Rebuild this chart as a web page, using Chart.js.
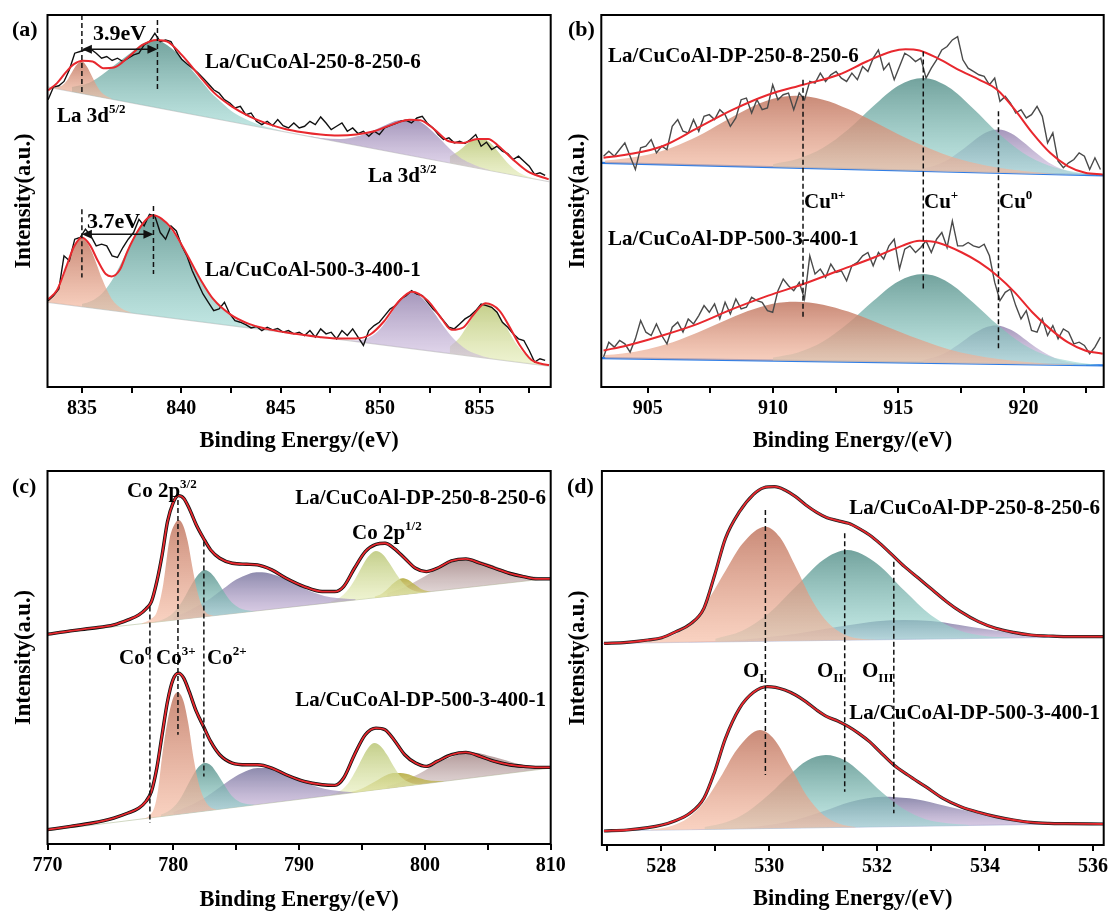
<!DOCTYPE html>
<html lang="en">
<head>
<meta charset="UTF-8">
<title>XPS spectra of La/CuCoAl catalysts</title>
<script src="https://cdn.jsdelivr.net/npm/chart.js"></script>
<style>
  body { margin: 0; background: #fff; }
  #wrap { position: relative; width: 1110px; height: 916px; overflow: hidden; }
  canvas { position: absolute; }
</style>
</head>
<body>
<div id="wrap">
  <canvas id="pa" width="555" height="458" style="left:0;top:0"></canvas>
  <canvas id="pb" width="555" height="458" style="left:555px;top:0"></canvas>
  <canvas id="pc" width="580" height="458" style="left:0;top:458px"></canvas>
  <canvas id="pd" width="555" height="458" style="left:555px;top:458px"></canvas>
</div>
<script>
const SERIF = '"Liberation Serif", "Times New Roman", serif';

// ---------- (a) La 3d ----------
const aX = [833.30, 833.57, 833.84, 834.10, 834.37, 834.64, 834.91, 835.18, 835.45, 835.72,
  835.99, 836.25, 836.52, 836.79, 837.06, 837.33, 837.60, 837.87, 838.13, 838.40,
  838.67, 838.94, 839.21, 839.48, 839.75, 840.02, 840.28, 840.55, 840.82, 841.09,
  841.36, 841.63, 841.90, 842.17, 842.44, 842.70, 842.97, 843.24, 843.51, 843.78,
  844.05, 844.32, 844.59, 844.85, 845.12, 845.39, 845.66, 845.93, 846.20, 846.47,
  846.74, 847.01, 847.28, 847.54, 847.81, 848.08, 848.35, 848.62, 848.89, 849.16,
  849.43, 849.70, 849.96, 850.23, 850.50, 850.77, 851.04, 851.31, 851.58, 851.85,
  852.12, 852.39, 852.66, 852.92, 853.19, 853.46, 853.73, 854.00, 854.27, 854.54,
  854.81, 855.08, 855.35, 855.61, 855.88, 856.15, 856.42, 856.69, 856.96, 857.23,
  857.50, 857.77, 858.04, 858.30];
const aRawTop = [865, 903, 907, 920, 955, 1005, 1010, 1015, 1017, 1005,
  990, 995, 983, 990, 980, 990, 1000, 1005, 1030, 1040,
  1065, 1040, 1045, 1040, 1010, 987, 973, 960, 947, 930,
  913, 895, 885, 865, 855, 840, 845, 820, 825, 800,
  790, 800, 787, 805, 787, 780, 795, 780, 785, 800,
  790, 813, 795, 775, 785, 795, 770, 780, 763, 770,
  755, 770, 760, 780, 787, 793, 800, 803, 795, 810,
  815, 793, 780, 760, 745, 750, 735, 740, 733, 745,
  760, 725, 737, 715, 725, 710, 703, 685, 695, 680,
  665, 640, 645, 637];
const aRawBot = [260, 275, 295, 395, 380, 445, 450, 475, 455, 425,
  430, 425, 395, 390, 420, 445, 465, 505, 485, 520,
  515, 465, 445, 485, 470, 425, 395, 350, 315, 280,
  255, 230, 235, 255, 220, 200, 195, 188, 178, 182,
  170, 180, 172, 176, 165, 170, 160, 165, 155, 170,
  150, 175, 160, 165, 145, 170, 155, 175, 150, 125,
  170, 185, 195, 215, 235, 245, 265, 275, 290, 280,
  275, 255, 235, 220, 200, 180, 175, 190, 205, 215,
  230, 250, 245, 240, 225, 195, 180, 160, 145, 140,
  110, 75, 85, 80];
const aFitTop = [[833.3, 893], [833.75, 915], [834.2, 948], [834.6, 972], [835.04, 982], [835.54, 980], [836.08, 960],
  [836.61, 962], [837.33, 993], [838.05, 1030], [838.76, 1045], [839.3, 1040], [840.02, 1000], [840.91, 937],
  [841.63, 887], [842.53, 845], [843.42, 815], [844.32, 793], [845.22, 777], [846.11, 767], [847.01, 760],
  [847.9, 757], [848.8, 760], [849.7, 770], [850.59, 790], [851.49, 805], [852.03, 803], [852.74, 775],
  [853.46, 740], [854.18, 735], [854.89, 747], [855.43, 747], [855.97, 725], [856.68, 685], [857.4, 650], [858.48, 625]];
const aFitBot = [[833.3, 264], [833.75, 292], [834.25, 368], [834.6, 422], [835.0, 450], [835.4, 428], [835.8, 380],
  [836.2, 340], [836.5, 333], [836.9, 352], [837.3, 410], [837.8, 468], [838.3, 508], [838.6, 517], [839.0, 507],
  [839.5, 478], [840.0, 430], [840.5, 375], [841.0, 320], [841.6, 265], [842.5, 217], [843.4, 190], [844.3, 175],
  [845.2, 165], [846.1, 157], [847.0, 150], [848.0, 146], [848.8, 146], [849.5, 158], [850.2, 198], [850.9, 255],
  [851.6, 287], [852.4, 260], [853.1, 205], [853.6, 172], [854.2, 180], [854.7, 218], [855.3, 252], [856.0, 230],
  [856.5, 182], [857.0, 128], [857.6, 82], [858.1, 70], [858.5, 66]];
const aBgTop = [[833.3, 903], [858.5, 618]];
const aBgBot = [[833.3, 255], [858.5, 63]];
const aLa52Top = [[833.5, 902], [834, 908], [834.25, 923], [834.5, 948], [834.75, 971], [835, 980], [835.25, 965],
  [835.5, 936], [835.75, 907], [836, 886], [836.5, 868]];
const aSatTop = [[834.5, 903], [835, 909], [835.5, 920], [836, 939], [836.5, 963], [837, 985], [837.5, 1008], [838, 1032],
  [838.7, 1045], [839.5, 1020], [840, 991], [840.5, 957], [841, 922], [841.5, 886], [842, 858], [842.5, 832],
  [843, 814], [844, 788], [845, 772]];
const aLa32Top = [[846.5, 755], [847, 750], [848, 747], [848.5, 750], [849, 757], [849.5, 768], [850, 781], [850.5, 795],
  [851, 804], [851.7, 805], [852, 799], [852.5, 777], [853, 748], [853.5, 717], [854, 692], [854.5, 675], [855, 662], [855.5, 653]];
const aSat2Top = [[853.5, 694], [854, 713], [854.5, 738], [855.1, 750], [855.5, 737], [856, 704], [856.5, 669], [857, 645],
  [857.5, 632], [858, 624]];
const aLa52Bot = [[833.3, 266], [833.75, 294], [834, 324], [834.25, 364], [834.5, 405], [834.75, 437], [835, 447],
  [835.25, 435], [835.5, 407], [835.75, 368], [836, 328], [836.5, 265], [837, 236], [837.5, 223]];
const aSatBot = [[835, 250], [835.5, 260], [836, 281], [836.5, 320], [837, 376], [837.5, 438], [838, 491], [838.6, 515],
  [839, 505], [839.5, 473], [840, 426], [840.5, 372], [841, 319], [841.5, 274], [842, 239], [842.5, 214], [843, 196],
  [843.5, 185], [844, 176], [844.5, 171]];
const aLa32Bot = [[848.5, 140], [849, 141], [849.5, 151], [850, 175], [850.5, 216], [851, 261], [851.6, 285], [852.2, 263],
  [852.7, 225], [853.2, 182], [853.7, 145], [854.2, 119], [854.7, 102], [855.2, 92], [855.7, 85]];
const aSat2Bot = [[853.5, 121], [854, 149], [854.5, 196], [855, 239], [855.35, 250], [855.8, 232], [856.3, 185],
  [856.8, 134], [857.3, 98], [857.8, 78], [858.3, 67]];

// ---------- (b) Cu 2p satellite ----------
const bX = [903.24, 903.45, 903.67, 903.88, 904.09, 904.30, 904.51, 904.72, 904.93, 905.14,
  905.35, 905.56, 905.77, 905.98, 906.20, 906.41, 906.62, 906.83, 907.04, 907.25,
  907.46, 907.67, 907.88, 908.09, 908.30, 908.52, 908.73, 908.94, 909.15, 909.36,
  909.57, 909.78, 909.99, 910.20, 910.41, 910.62, 910.83, 911.05, 911.26, 911.47,
  911.68, 911.89, 912.10, 912.31, 912.52, 912.73, 912.94, 913.15, 913.37, 913.58,
  913.79, 914.00, 914.21, 914.42, 914.63, 914.84, 915.05, 915.26, 915.47, 915.69,
  915.90, 916.11, 916.32, 916.53, 916.74, 916.95, 917.16, 917.37, 917.58, 917.79,
  918.00, 918.22, 918.43, 918.64, 918.85, 919.06, 919.27, 919.48, 919.69, 919.90,
  920.11, 920.32, 920.54, 920.75, 920.96, 921.17, 921.38, 921.59, 921.80, 922.01,
  922.22, 922.43, 922.64, 922.85, 923.07];
const bRawTop = [695, 710, 695, 715, 735, 695, 655, 720, 725, 745,
  705, 725, 715, 785, 805, 770, 765, 805, 770, 815,
  820, 805, 835, 820, 785, 810, 865, 870, 825, 865,
  835, 840, 910, 865, 880, 885, 835, 885, 865, 920,
  915, 945, 920, 940, 950, 930, 920, 945, 925, 965,
  950, 990, 1015, 955, 975, 925, 965, 1005, 995, 980,
  990, 930, 960, 985, 1015, 1025, 1045, 1055, 985, 960,
  950, 940, 935, 910, 930, 860, 875, 855, 825, 835,
  810, 820, 845, 815, 735, 765, 680, 660, 675, 685,
  705, 695, 655, 690, 655];
const bRawBot = [90, 135, 120, 140, 130, 105, 145, 200, 165, 155,
  190, 155, 130, 180, 195, 165, 205, 190, 215, 245,
  225, 250, 205, 255, 220, 265, 235, 240, 270, 260,
  255, 230, 225, 290, 325, 305, 290, 315, 265, 395,
  340, 355, 330, 370, 345, 350, 320, 365, 375, 395,
  405, 365, 405, 385, 425, 445, 355, 415, 425, 405,
  420, 440, 405, 445, 465, 420, 500, 425, 425, 435,
  425, 420, 430, 395, 315, 260, 285, 295, 245, 205,
  230, 170, 165, 205, 155, 185, 145, 175, 165, 130,
  135, 125, 100, 120, 150];
const bFitTop = [[903.24, 690], [904.18, 700], [905.59, 725], [907.0, 780], [908.4, 835], [909.81, 880], [911.21, 910],
  [912.62, 940], [913.74, 980], [914.73, 1010], [915.29, 1017], [915.85, 1013], [916.56, 990], [917.54, 950],
  [918.24, 925], [918.95, 895], [919.65, 835], [920.35, 765], [921.06, 705], [921.76, 665], [922.46, 645], [923.16, 640]];
const bFitBot = [[903.24, 110], [904.18, 125], [905.59, 155], [907.0, 190], [908.4, 235], [909.81, 275], [911.21, 310],
  [912.62, 350], [914.03, 390], [915.15, 425], [915.85, 440], [916.56, 435], [917.54, 405], [918.24, 375],
  [918.95, 335], [919.65, 285], [920.35, 225], [921.06, 175], [921.76, 135], [922.46, 110], [923.16, 100]];
const bBgTop = [[903.15, 675], [923.2, 637]];
const bBgBot = [[903.15, 87], [923.2, 65]];
const bCuNTop = [[903.3, 682], [904, 687], [905, 699], [906, 722], [907, 755], [908, 797], [909, 838], [910, 868],
  [910.9, 877], [912, 865], [913, 837], [914, 800], [915, 761], [916, 726], [917, 696], [918, 675], [919, 660],
  [920, 650], [921, 643], [922, 639]];
const bCuPTop = [[910, 671], [911, 687], [912, 720], [913, 775], [914, 845], [915, 907], [916, 930], [917, 903],
  [918, 838], [919, 764], [920, 704], [921, 667], [922, 648], [923, 637]];
const bCu0Top = [[916, 658], [916.5, 668], [917, 685], [917.5, 711], [918, 741], [918.5, 766], [919, 775], [919.5, 764],
  [920, 737], [920.5, 705], [921, 676], [921.5, 657], [922, 645], [922.5, 638]];
const bCuNBot = [[903.3, 96], [904, 101], [905, 114], [906, 135], [907, 164], [908, 197], [909, 229], [910, 251],
  [910.9, 257], [912, 248], [913, 227], [914, 199], [915, 168], [916, 139], [917, 114], [918, 96], [919, 84],
  [920, 76], [921, 70], [922, 68]];
const bCuPBot = [[910, 89], [911, 104], [912, 137], [913, 192], [914, 259], [915, 318], [916, 340], [917, 315],
  [918, 254], [919, 185], [920, 128], [921, 93], [922, 76], [923, 66]];
const bCu0Bot = [[916, 81], [916.5, 91], [917, 108], [917.5, 133], [918, 160], [918.5, 180], [918.9, 185], [919.5, 172],
  [920, 147], [920.5, 119], [921, 96], [921.5, 80], [922, 72], [922.5, 67]];

// ---------- (c) Co 2p ----------
const cFitTop = [[770.0, 630], [771.83, 640], [773.54, 648], [775.26, 658], [776.4, 673], [777.26, 688], [777.83, 706],
  [778.26, 728], [778.69, 788], [779.11, 868], [779.54, 968], [779.97, 1023], [780.4, 1046], [780.83, 1038],
  [781.26, 1008], [781.83, 958], [782.4, 918], [782.97, 883], [783.69, 858], [784.69, 843], [785.83, 840],
  [786.69, 838], [787.83, 823], [788.97, 798], [790.4, 773], [791.83, 758], [792.83, 758], [793.54, 773],
  [794.4, 828], [795.26, 878], [796.11, 900], [796.83, 903], [797.54, 888], [798.4, 858], [799.26, 828],
  [800.11, 818], [800.97, 828], [802.11, 850], [803.26, 856], [804.4, 843], [805.54, 828], [806.69, 813],
  [807.83, 803], [808.97, 796], [810.0, 796]];
const cFitBot = [[770.0, 43], [771.83, 53], [773.54, 63], [775.26, 78], [776.4, 93], [777.26, 108], [777.83, 128],
  [778.26, 158], [778.69, 228], [779.11, 328], [779.54, 428], [779.97, 493], [780.4, 513], [780.83, 498],
  [781.26, 458], [781.83, 398], [782.4, 353], [782.97, 308], [783.69, 268], [784.69, 243], [785.83, 238],
  [786.69, 238], [787.83, 228], [788.97, 208], [790.4, 188], [791.83, 178], [792.83, 176], [793.54, 198],
  [794.4, 268], [795.26, 328], [796.11, 348], [796.83, 343], [797.54, 313], [798.4, 268], [799.26, 243],
  [800.11, 233], [800.97, 248], [802.11, 268], [803.26, 275], [804.4, 263], [805.54, 248], [806.69, 238],
  [807.83, 233], [808.97, 230], [810.0, 230]];
const cBgTop = [[770, 630], [810, 798]];
const cBgBot = [[770, 40], [810, 228]];
const cCo3Top = [[777.5, 663], [778.2, 675], [778.7, 698], [779.2, 780], [779.7, 915], [780.1, 960], [780.45, 973],
  [780.8, 955], [781.15, 908], [781.5, 835], [781.85, 768], [782.2, 722], [782.6, 695], [783.2, 685]];
const cCo2Top = [[778.5, 667], [779, 672], [779.5, 680], [780, 694], [780.5, 717], [781, 748], [781.5, 782], [782, 810],
  [782.5, 823], [783, 813], [783.5, 789], [784, 759], [784.5, 732], [785, 715], [785.5, 705], [786, 701], [786.5, 699]];
const cSat1Top = [[780, 682], [781, 696], [782, 716], [783, 739], [784, 767], [785, 794], [786, 811], [786.6, 816],
  [787.5, 814], [788.5, 802], [789.5, 785], [790.5, 766], [791.5, 751], [792.5, 741], [793.5, 737], [794.5, 735]];
const cCo12Top = [[792.5, 728], [793, 735], [793.5, 748], [794, 769], [794.5, 799], [795, 833], [795.5, 863], [796.1, 880],
  [796.7, 868], [797.2, 842], [797.7, 812], [798.2, 786], [798.7, 769], [799.2, 760], [799.7, 757], [800.2, 757]];
const cCo12bTop = [[796, 743], [796.5, 750], [797, 765], [797.5, 783], [798.2, 798], [798.7, 793], [799.2, 779],
  [799.7, 766], [800.2, 760], [800.7, 758]];
const cSat2Top = [[797, 753], [797.5, 759], [798, 765], [799, 783], [800, 804], [801, 826], [802, 844], [803, 853],
  [804, 852], [805, 842], [806, 828], [807, 815], [808, 806], [809, 802], [810, 801]];
const cCo3Bot = [[777.5, 76], [778, 82], [778.5, 110], [778.8, 165], [779.1, 260], [779.5, 360], [780, 440], [780.35, 456],
  [780.8, 430], [781.2, 360], [781.6, 260], [782, 185], [782.4, 140], [782.9, 112], [783.4, 104]];
const cCo2Bot = [[779, 88], [779.5, 96], [780, 110], [780.5, 133], [781, 167], [781.5, 202], [782, 231], [782.5, 243],
  [783, 236], [783.5, 211], [784, 181], [784.5, 152], [785, 133], [785.5, 123], [786, 119], [786.5, 117]];
const cSat1Bot = [[780, 96], [781, 110], [782, 128], [783, 152], [784, 179], [785, 204], [786, 222], [786.7, 228],
  [787.5, 228], [788.5, 218], [789.5, 202], [790.5, 185], [791.5, 171], [792.5, 162], [793.5, 158], [794.5, 155]];
const cCo12Bot = [[792.5, 148], [793, 154], [793.5, 166], [794, 188], [794.5, 220], [795, 257], [795.5, 289], [796, 303],
  [796.5, 293], [797, 267], [797.5, 234], [798, 206], [798.5, 190], [799, 182], [799.5, 180], [800, 181]];
const cCo12bBot = [[794, 155], [795, 167], [796, 187], [797, 208], [797.6, 213], [798.5, 211], [799.5, 198], [800.5, 190],
  [801.5, 189]];
const cSat2Bot = [[797, 174], [798, 185], [799, 201], [800, 221], [801, 243], [802, 260], [803.2, 273], [804, 274],
  [805, 266], [806, 256], [807, 245], [808, 236], [809, 232], [810, 232]];

// ---------- (d) O 1s ----------
const dFitTop = [[526.94, 605], [527.36, 608], [527.75, 615], [528.01, 622], [528.27, 640], [528.53, 662], [528.79, 710],
  [528.99, 810], [529.19, 920], [529.45, 1000], [529.71, 1052], [529.9, 1072], [530.1, 1075], [530.29, 1065],
  [530.49, 1045], [530.68, 1020], [530.88, 998], [531.07, 982], [531.27, 973], [531.47, 965], [531.66, 950],
  [531.86, 930], [532.05, 905], [532.25, 875], [532.51, 835], [532.77, 800], [533.03, 765], [533.29, 730],
  [533.55, 700], [533.88, 670], [534.2, 650], [534.53, 638], [534.85, 630], [535.18, 627], [535.5, 625], [536.2, 625]];
const dFitBot = [[526.94, 42], [527.36, 45], [527.75, 52], [528.01, 60], [528.21, 70], [528.53, 95], [528.79, 140],
  [528.99, 220], [529.19, 320], [529.45, 410], [529.71, 458], [529.97, 475], [530.29, 465], [530.49, 450],
  [530.68, 430], [530.88, 405], [531.07, 385], [531.27, 372], [531.47, 355], [531.66, 335], [531.86, 310],
  [532.05, 280], [532.31, 240], [532.57, 210], [532.9, 175], [533.22, 140], [533.55, 115], [533.88, 98],
  [534.2, 85], [534.53, 75], [534.85, 68], [535.18, 65], [535.5, 64], [536.2, 63]];
const dBgTop = [[526.9, 605], [536.2, 625]];
const dBgBot = [[526.9, 42], [536.2, 65]];
const dOITop = [[527.5, 608], [528, 619], [528.3, 636], [528.6, 672], [528.9, 743], [529.2, 825], [529.5, 903],
  [529.93, 955], [530.2, 923], [530.5, 832], [530.8, 733], [531.1, 665], [531.4, 631], [531.7, 619], [532, 616]];
const dOIITop = [[529, 619], [529.5, 643], [530, 696], [530.5, 776], [531, 855], [531.45, 885], [532, 844], [532.5, 764],
  [533, 689], [533.5, 645], [534, 627], [534.5, 622]];
const dOIIITop = [[528.5, 609], [529, 612], [529.5, 616], [530, 624], [530.5, 634], [531, 647], [531.5, 660], [532, 671],
  [532.5, 675], [533, 672], [533.5, 661], [534, 648], [534.5, 637], [535, 630], [535.5, 626], [536, 625]];
const dOIBot = [[527.8, 46], [528.2, 58], [528.5, 82], [528.8, 130], [529.1, 204], [529.4, 286], [529.83, 345],
  [530.1, 316], [530.4, 233], [530.7, 147], [531, 91], [531.3, 64], [531.6, 54]];
const dOIIBot = [[528.8, 54], [529.2, 68], [529.6, 100], [530, 152], [530.4, 214], [530.7, 253], [531.05, 270],
  [531.4, 254], [531.7, 217], [532.1, 157], [532.5, 107], [532.9, 77], [533.3, 65], [533.7, 60]];
const dOIIIBot = [[528.5, 46], [529, 48], [529.5, 51], [530, 60], [530.5, 76], [531, 101], [531.5, 129], [532.1, 145],
  [532.6, 140], [533.1, 124], [533.6, 105], [534.1, 87], [534.6, 75], [535.1, 68], [535.6, 66], [536.1, 65]];

// ---------- colours ----------
const ORANGE = ['rgba(192,118,96,0.85)', 'rgba(246,186,160,0.65)'];
const TEAL = ['rgba(90,146,140,0.85)', 'rgba(158,218,212,0.62)'];
const PURPLE = ['rgba(140,122,168,0.78)', 'rgba(204,184,222,0.55)'];
const NAVY = ['rgba(104,100,146,0.75)', 'rgba(196,170,214,0.55)'];
const LIME = ['rgba(186,198,118,0.85)', 'rgba(228,236,180,0.6)'];
const OLIVE = ['rgba(176,166,52,0.85)', 'rgba(206,196,100,0.6)'];
const MAUVE = ['rgba(160,128,128,0.8)', 'rgba(200,180,180,0.55)'];
const RED = '#e8282e';

const pts = arr => arr.map(([x, y]) => ({x, y}));
const zip = (xs, ys) => xs.map((x, i) => ({x, y: ys[i]}));

function grad(c0, c1) {
  return (ctx) => {
    const chart = ctx.chart;
    if (!chart.chartArea || !ctx.dataset) return c1;
    const ys = ctx.dataset.data.map(p => p.y);
    const sy = chart.scales.y;
    const top = sy.getPixelForValue(Math.max(...ys));
    const bot = sy.getPixelForValue(Math.min(...ys));
    const g = chart.ctx.createLinearGradient(0, top, 0, bot);
    g.addColorStop(0, c0);
    g.addColorStop(1, c1);
    return g;
  };
}
const bgLine = (arr, color, w) => ({data: pts(arr), borderColor: color, borderWidth: w, pointRadius: 0, fill: false, order: 9});
const peak = (arr, bgIdx, col) => ({data: pts(arr), borderWidth: 0, borderColor: 'transparent', pointRadius: 0,
  cubicInterpolationMode: 'monotone', fill: {target: bgIdx}, backgroundColor: grad(col[0], col[1]), order: 5});
const fitLine = (arr, w) => ({data: pts(arr), borderColor: RED, borderWidth: w, pointRadius: 0, fill: false,
  cubicInterpolationMode: 'monotone', order: 1});
const rawLine = (data, color, w, mono) => ({data, borderColor: color, borderWidth: w, pointRadius: 0, fill: false,
  cubicInterpolationMode: mono ? 'monotone' : 'default', order: 2});
const dash = (x, y1, y2) => ({data: [{x, y: y1}, {x, y: y2}], borderColor: '#111', borderWidth: 1.5, borderDash: [5, 3],
  pointRadius: 0, fill: false, order: 0});

function drawRich(c, x, y, parts, size, align) {
  const pieces = parts.map(([t, kind]) => {
    const s = kind === 'n' ? size : Math.round(size * 0.62);
    c.font = `bold ${s}px ${SERIF}`;
    return {t, kind, s, w: c.measureText(t).width};
  });
  let cx = x;
  if (align === 'right') cx = x - pieces.reduce((a, p) => a + p.w, 0);
  for (const p of pieces) {
    c.font = `bold ${p.s}px ${SERIF}`;
    const dy = p.kind === 'sup' ? -size * 0.36 : p.kind === 'sub' ? size * 0.32 : 0;
    c.fillText(p.t, cx, y + dy);
    cx += p.w;
  }
}

const annotPlugin = {
  id: 'annot',
  afterDraw(chart, args, opts) {
    const c = chart.ctx, a = chart.chartArea, sx = chart.scales.x, sy = chart.scales.y;
    c.save();
    c.strokeStyle = '#000';
    c.lineWidth = 2;
    c.strokeRect(a.left, a.top, a.right - a.left, a.bottom - a.top);
    c.fillStyle = '#111';
    c.strokeStyle = '#111';
    for (const ar of opts.arrows || []) {
      const x1 = sx.getPixelForValue(ar[0]), x2 = sx.getPixelForValue(ar[1]), y = sy.getPixelForValue(ar[2]);
      c.lineWidth = 1.5;
      c.beginPath(); c.moveTo(x1 + 4, y); c.lineTo(x2 - 4, y); c.stroke();
      for (const [tip, dir] of [[x1, -1], [x2, 1]]) {
        c.beginPath(); c.moveTo(tip, y); c.lineTo(tip - dir * 10, y - 4.5); c.lineTo(tip - dir * 10, y + 4.5);
        c.closePath(); c.fill();
      }
    }
    c.fillStyle = '#000';
    c.textBaseline = 'middle';
    c.textAlign = 'left';
    for (const t of opts.texts) drawRich(c, t.x, t.y, t.parts, t.size || 21, t.align);
    c.textAlign = 'center';
    c.font = `bold 22.5px ${SERIF}`;
    c.fillText('Binding Energy/(eV)', (a.left + a.right) / 2, opts.xTitleY);
    c.translate(opts.yTitleX, (a.top + a.bottom) / 2);
    c.rotate(-Math.PI / 2);
    c.fillText('Intensity(a.u.)', 0, 0);
    c.restore();
  }
};

const isMajor = (v, m) => Math.abs(v / m - Math.round(v / m)) < 1e-6;

function makeChart(id, cfg) {
  const H = 458, A = cfg.area;
  return new Chart(document.getElementById(id), {
    type: 'line',
    data: {datasets: cfg.datasets},
    options: {
      responsive: false,
      animation: false,
      devicePixelRatio: 1,
      layout: {padding: {left: A.left, top: A.top, right: cfg.W - A.right, bottom: 0}},
      plugins: {legend: {display: false}, tooltip: {enabled: false}, annot: cfg.annot},
      scales: {
        x: {
          type: 'linear', min: cfg.xMin, max: cfg.xMax,
          border: {display: false},
          grid: {drawOnChartArea: false, tickLength: 6, lineWidth: 2, color: '#000'},
          ticks: {
            stepSize: cfg.step, includeBounds: false, autoSkip: false, maxRotation: 0, padding: 4, color: '#000',
            font: {family: SERIF, size: 20, weight: 'bold'},
            callback: v => isMajor(v, cfg.major) ? String(v) : ''
          },
          afterFit: s => { s.height = H - A.bottom; s.paddingLeft = 0; s.paddingRight = 0; }
        },
        y: {display: false, min: 0, max: cfg.yMax}
      }
    },
    plugins: [annotPlugin]
  });
}

// (a)
makeChart('pa', {
  W: 555, area: {left: 47.5, top: 15, right: 550.7, bottom: 387},
  xMin: 833.27, xMax: 858.58, step: 2.5, major: 5, yMax: 1120,
  datasets: [
    bgLine(aBgTop, 'rgba(205,205,205,0.9)', 1.2),
    bgLine(aBgBot, 'rgba(205,205,205,0.9)', 1.2),
    peak(aLa52Top, 0, ORANGE), peak(aSatTop, 0, TEAL), peak(aLa32Top, 0, PURPLE), peak(aSat2Top, 0, LIME),
    peak(aLa52Bot, 1, ORANGE), peak(aSatBot, 1, TEAL), peak(aLa32Bot, 1, PURPLE), peak(aSat2Bot, 1, LIME),
    rawLine(zip(aX, aRawTop), '#111', 1.4), rawLine(zip(aX, aRawBot), '#111', 1.4),
    fitLine(aFitTop, 2), fitLine(aFitBot, 2),
    dash(835.0, 1120, 885), dash(838.8, 1105, 895), dash(835.0, 535, 330), dash(838.6, 545, 340)
  ],
  annot: {
    xTitleY: 441, yTitleX: 24,
    arrows: [[835.0, 838.8, 1017], [835.0, 838.6, 460]],
    texts: [
      {x: 12, y: 30, parts: [['(a)', 'n']], size: 22},
      {x: 93, y: 34, parts: [['3.9eV', 'n']], size: 22},
      {x: 205, y: 63, parts: [['La/CuCoAl-250-8-250-6', 'n']]},
      {x: 57, y: 117, parts: [['La 3d', 'n'], ['5/2', 'sup']]},
      {x: 368, y: 177, parts: [['La 3d', 'n'], ['3/2', 'sup']]},
      {x: 87, y: 222, parts: [['3.7eV', 'n']], size: 22},
      {x: 205, y: 271, parts: [['La/CuCoAl-500-3-400-1', 'n']]}
    ]
  }
});

// (b)
makeChart('pb', {
  W: 555, area: {left: 46.3, top: 15, right: 548.7, bottom: 387},
  xMin: 903.15, xMax: 923.2, step: 2.5, major: 5, yMax: 1120,
  datasets: [
    bgLine(bBgTop, '#2e7de6', 2.2),
    bgLine(bBgBot, '#2e7de6', 2.2),
    peak(bCuNTop, 0, ORANGE), peak(bCuPTop, 0, TEAL), peak(bCu0Top, 0, PURPLE),
    peak(bCuNBot, 1, ORANGE), peak(bCuPBot, 1, TEAL), peak(bCu0Bot, 1, PURPLE),
    rawLine(zip(bX, bRawTop), '#4a4a4a', 1.4), rawLine(zip(bX, bRawBot), '#4a4a4a', 1.4),
    fitLine(bFitTop, 2), fitLine(bFitBot, 2),
    dash(911.2, 925, 205), dash(916.0, 1010, 290), dash(919.0, 830, 110)
  ],
  annot: {
    xTitleY: 441, yTitleX: 23,
    texts: [
      {x: 13, y: 30, parts: [['(b)', 'n']], size: 22},
      {x: 53, y: 57, parts: [['La/CuCoAl-DP-250-8-250-6', 'n']]},
      {x: 53, y: 240, parts: [['La/CuCoAl-DP-500-3-400-1', 'n']]},
      {x: 249, y: 203, parts: [['Cu', 'n'], ['n+', 'sup']]},
      {x: 369, y: 203, parts: [['Cu', 'n'], ['+', 'sup']]},
      {x: 444, y: 203, parts: [['Cu', 'n'], ['0', 'sup']]}
    ]
  }
});

// (c)
makeChart('pc', {
  W: 580, area: {left: 47.5, top: 13, right: 550.7, bottom: 386},
  xMin: 770, xMax: 810, step: 5, major: 10, yMax: 1120,
  datasets: [
    bgLine(cBgTop, 'rgba(190,200,170,0.7)', 1),
    bgLine(cBgBot, 'rgba(190,200,170,0.7)', 1),
    peak(cCo3Top, 0, ORANGE), peak(cCo2Top, 0, TEAL), peak(cSat1Top, 0, NAVY),
    peak(cCo12Top, 0, LIME), peak(cCo12bTop, 0, OLIVE), peak(cSat2Top, 0, MAUVE),
    peak(cCo3Bot, 1, ORANGE), peak(cCo2Bot, 1, TEAL), peak(cSat1Bot, 1, NAVY),
    peak(cCo12Bot, 1, LIME), peak(cCo12bBot, 1, OLIVE), peak(cSat2Bot, 1, MAUVE),
    rawLine(pts(cFitTop), '#111', 3.4, true), rawLine(pts(cFitBot), '#111', 3.4, true),
    fitLine(cFitTop, 1.8), fitLine(cFitBot, 1.8),
    dash(778.14, 713, 63), dash(780.37, 1033, 328), dash(782.43, 908, 203)
  ],
  annot: {
    xTitleY: 442, yTitleX: 24,
    texts: [
      {x: 12, y: 29, parts: [['(c)', 'n']], size: 22},
      {x: 127, y: 34, parts: [['Co 2p', 'n'], ['3/2', 'sup']]},
      {x: 546, y: 41, parts: [['La/CuCoAl-DP-250-8-250-6', 'n']], align: 'right'},
      {x: 352, y: 76, parts: [['Co 2p', 'n'], ['1/2', 'sup']]},
      {x: 119, y: 201, parts: [['Co', 'n'], ['0', 'sup']]},
      {x: 156, y: 201, parts: [['Co', 'n'], ['3+', 'sup']]},
      {x: 207, y: 201, parts: [['Co', 'n'], ['2+', 'sup']]},
      {x: 546, y: 243, parts: [['La/CuCoAl-DP-500-3-400-1', 'n']], align: 'right'}
    ]
  }
});

// (d)
makeChart('pd', {
  W: 555, area: {left: 46.9, top: 13, right: 548.7, bottom: 387},
  xMin: 526.9, xMax: 536.2, step: 1, major: 2, yMax: 1122,
  datasets: [
    bgLine(dBgTop, 'rgba(190,200,225,0.8)', 1.2),
    bgLine(dBgBot, 'rgba(190,200,225,0.8)', 1.2),
    peak(dOITop, 0, ORANGE), peak(dOIITop, 0, TEAL), peak(dOIIITop, 0, NAVY),
    peak(dOIBot, 1, ORANGE), peak(dOIIBot, 1, TEAL), peak(dOIIIBot, 1, NAVY),
    rawLine(pts(dFitTop), '#222', 3.2, true), rawLine(pts(dFitBot), '#222', 3.2, true),
    fitLine(dFitTop, 1.8), fitLine(dFitBot, 1.8),
    dash(529.93, 1005, 210), dash(531.4, 935, 160), dash(532.31, 850, 95)
  ],
  annot: {
    xTitleY: 441, yTitleX: 23,
    texts: [
      {x: 12, y: 29, parts: [['(d)', 'n']], size: 22},
      {x: 545, y: 51, parts: [['La/CuCoAl-DP-250-8-250-6', 'n']], align: 'right'},
      {x: 188, y: 214, parts: [['O', 'n'], ['I', 'sub']]},
      {x: 262, y: 214, parts: [['O', 'n'], ['II', 'sub']]},
      {x: 307, y: 214, parts: [['O', 'n'], ['III', 'sub']]},
      {x: 545, y: 256, parts: [['La/CuCoAl-DP-500-3-400-1', 'n']], align: 'right'}
    ]
  }
});
</script>
</body>
</html>
